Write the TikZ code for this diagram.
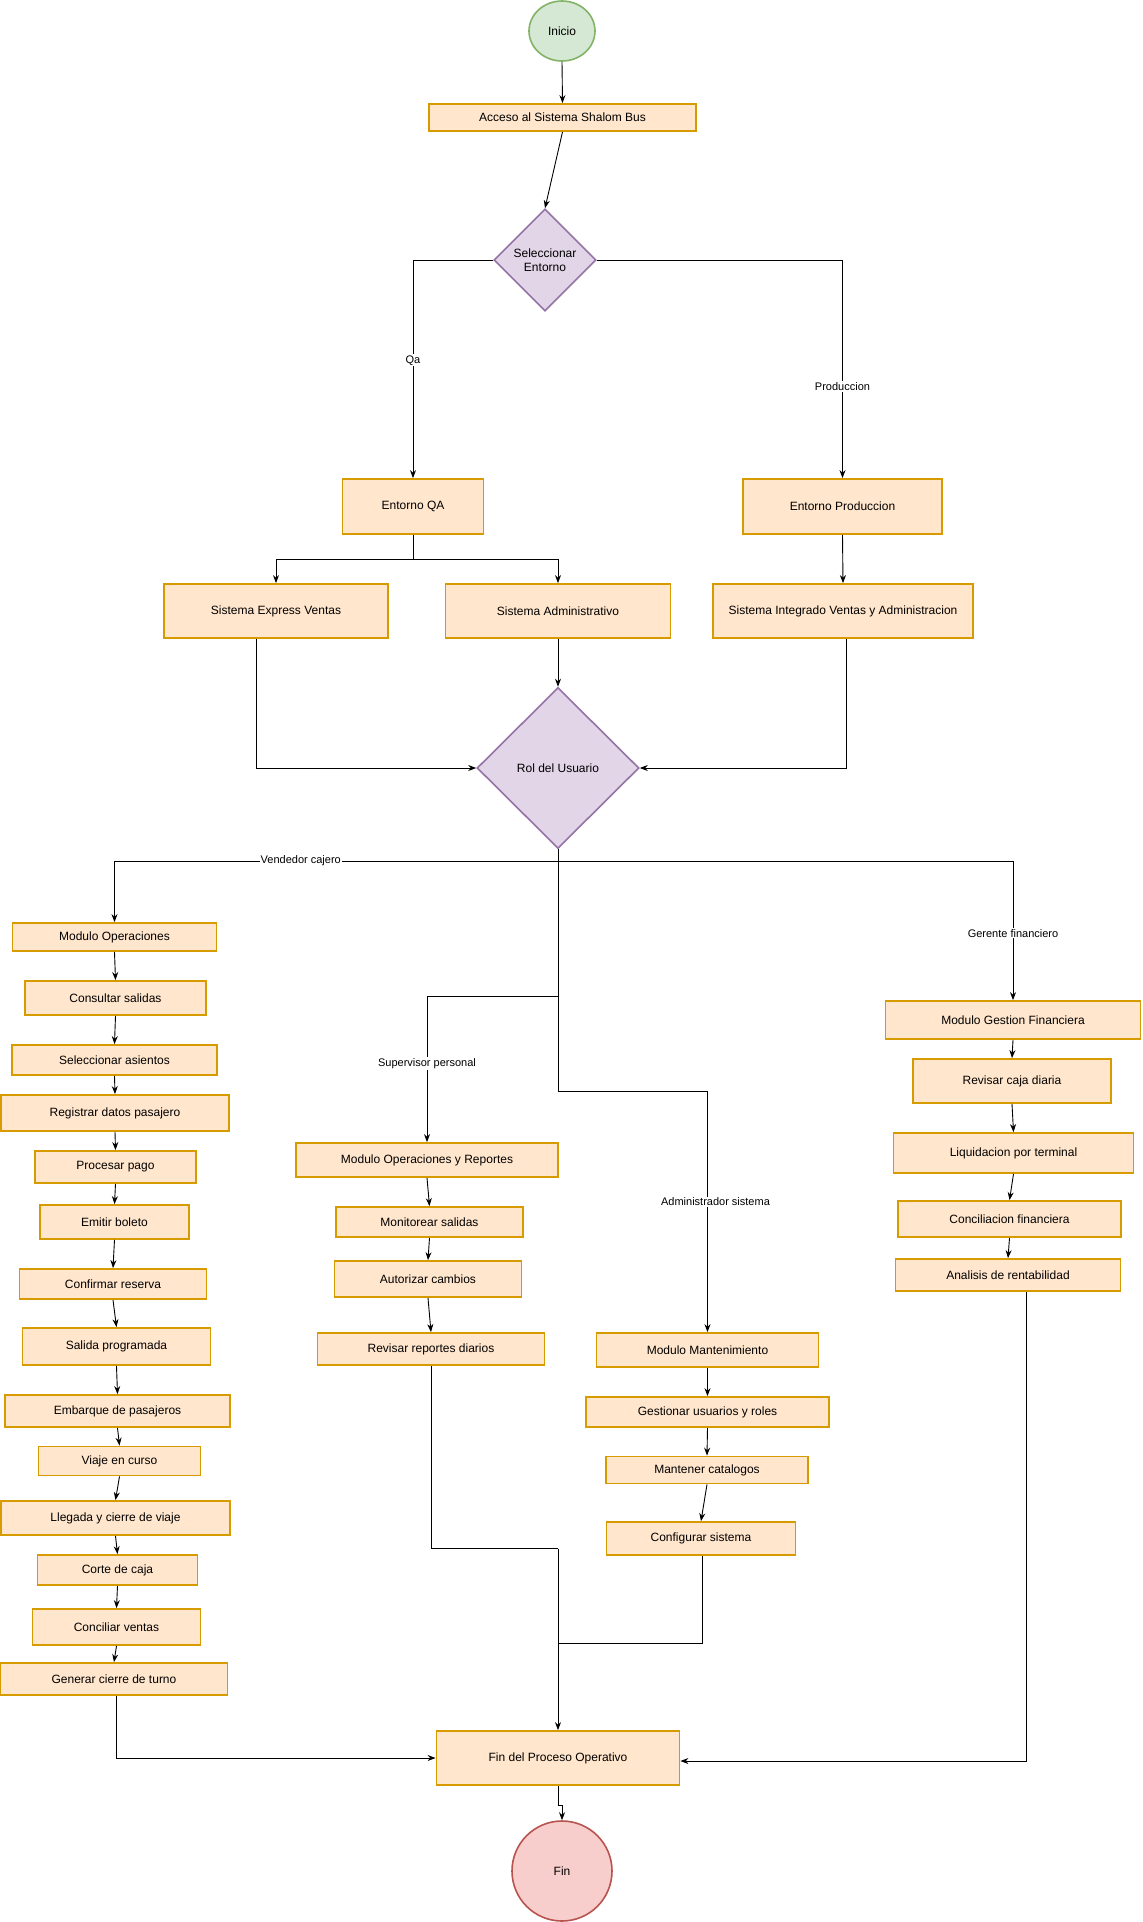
\documentclass[tikz,border=0pt]{standalone}
\usepackage{fontspec}
\setmainfont{Liberation Sans}
\usetikzlibrary{shapes.geometric,arrows.meta,calc}
\definecolor{ofill}{HTML}{FFE6CC}
\definecolor{ostroke}{HTML}{D79B00}
\definecolor{gfill}{HTML}{D5E8D4}
\definecolor{gstroke}{HTML}{82B366}
\definecolor{pfill}{HTML}{E1D5E7}
\definecolor{pstroke}{HTML}{9673A6}
\definecolor{rfill}{HTML}{F8CECC}
\definecolor{rstroke}{HTML}{B85450}
\tikzset{
  box/.style={draw=ostroke, fill=ofill, line width=1.8pt, inner sep=0pt, align=center,
    font=\fontsize{12}{14}\selectfont},
  dia/.style={diamond, draw=pstroke, fill=pfill, line width=1.6pt, inner sep=0pt, aspect=1,
    align=center, font=\fontsize{12}{14}\selectfont},
  term/.style={ellipse, line width=1.6pt, inner sep=0pt, font=\fontsize{12}{14}\selectfont},
  conn/.style={draw=black, line width=0.9pt, -{Stealth[length=8pt,width=6pt]}},
  plain/.style={draw=black, line width=0.9pt},
  lbl/.style={fill=white, inner sep=1pt, font=\fontsize{11}{13}\selectfont, text=black},
}
\begin{document}
\begin{tikzpicture}[x=1pt,y=-1pt]
\useasboundingbox (0,0) rectangle (1143,1922);
\fill[white] (0,0) rectangle (1143,1922);

% top
\node[term, draw=gstroke, fill=gfill, minimum width=66pt, minimum height=60pt] (inicio) at (562,31) {Inicio};
\node[box, minimum width=267pt, minimum height=27pt] (acceso) at (562.5,117.5) {Acceso al Sistema Shalom Bus};
\node[dia, minimum width=102pt, minimum height=102pt] (sel) at (545,260) {Seleccionar\\Entorno};
\node[box, minimum width=141pt, minimum height=55pt] (eqa) at (413,506.5) {Entorno QA};
\node[box, minimum width=199pt, minimum height=55pt] (eprod) at (842.5,506.5) {Entorno Produccion};
\node[box, minimum width=224pt, minimum height=54pt] (sev) at (276,611) {Sistema Express Ventas};
\node[box, minimum width=225pt, minimum height=54pt] (sadm) at (558,611) {Sistema Administrativo};
\node[box, minimum width=260pt, minimum height=54pt] (sint) at (843,611) {Sistema Integrado Ventas y Administracion};
\node[dia, minimum width=162pt, minimum height=161pt] (rol) at (558,768) {Rol del Usuario};

% left column
\node[box, minimum width=204pt, minimum height=28pt] (mop) at (114.5,937) {Modulo Operaciones};
\node[box, minimum width=181pt, minimum height=34pt] (cons) at (115.5,998) {Consultar salidas};
\node[box, minimum width=205pt, minimum height=30pt] (selas) at (114.5,1060) {Seleccionar asientos};
\node[box, minimum width=228pt, minimum height=36pt] (reg) at (115,1113) {Registrar datos pasajero};
\node[box, minimum width=161pt, minimum height=32pt] (proc) at (115.5,1167) {Procesar pago};
\node[box, minimum width=149pt, minimum height=34pt] (emit) at (114.5,1222) {Emitir boleto};
\node[box, minimum width=187pt, minimum height=30pt] (conf) at (113,1284) {Confirmar reserva};
\node[box, minimum width=188pt, minimum height=37pt] (sal) at (116.5,1346.5) {Salida programada};
\node[box, minimum width=225pt, minimum height=32pt] (emb) at (117.5,1411) {Embarque de pasajeros};
\node[box, minimum width=162pt, minimum height=29pt] (viaje) at (119.5,1461) {Viaje en curso};
\node[box, minimum width=229pt, minimum height=34pt] (lleg) at (115.5,1518) {Llegada y cierre de viaje};
\node[box, minimum width=160pt, minimum height=30pt] (corte) at (117.5,1570) {Corte de caja};
\node[box, minimum width=168pt, minimum height=36pt] (concv) at (116.5,1627) {Conciliar ventas};
\node[box, minimum width=227pt, minimum height=32pt] (gen) at (114,1679) {Generar cierre de turno};

% supervisor column
\node[box, minimum width=262pt, minimum height=34pt] (mor) at (427,1160) {Modulo Operaciones y Reportes};
\node[box, minimum width=187pt, minimum height=30pt] (mon) at (429.5,1222) {Monitorear salidas};
\node[box, minimum width=187pt, minimum height=36pt] (aut) at (428,1279) {Autorizar cambios};
\node[box, minimum width=227pt, minimum height=32pt] (rev) at (431,1349) {Revisar reportes diarios};

% admin column
\node[box, minimum width=222pt, minimum height=34pt] (mman) at (707.5,1350) {Modulo Mantenimiento};
\node[box, minimum width=243pt, minimum height=30pt] (gest) at (707.5,1412) {Gestionar usuarios y roles};
\node[box, minimum width=202pt, minimum height=27pt] (mant) at (707,1470) {Mantener catalogos};
\node[box, minimum width=189pt, minimum height=33pt] (cfg) at (701,1538.5) {Configurar sistema};

% finance column
\node[box, minimum width=255pt, minimum height=38pt] (mgf) at (1013,1020) {Modulo Gestion Financiera};
\node[box, minimum width=198pt, minimum height=44pt] (rcd) at (1012,1081) {Revisar caja diaria};
\node[box, minimum width=240pt, minimum height=40pt] (liq) at (1013.5,1153) {Liquidacion por terminal};
\node[box, minimum width=223pt, minimum height=36pt] (cfin) at (1009.5,1219) {Conciliacion financiera};
\node[box, minimum width=225pt, minimum height=32pt] (ana) at (1008,1275) {Analisis de rentabilidad};

% end
\node[box, minimum width=243pt, minimum height=54pt] (fpo) at (558,1758) {Fin del Proceso Operativo};
\node[term, draw=rstroke, fill=rfill, minimum width=100pt, minimum height=100pt] (fin) at (562,1871) {Fin};

% junction coordinates
\coordinate (qsplit) at (413,559);
\coordinate (rj) at (558,861);
\coordinate (sj) at (558,996.5);
\coordinate (aj) at (558,1091);
\coordinate (mj) at (558,1548.6);
\coordinate (cj) at (558,1643.6);
\coordinate (fj) at (558,1805);

% connectors top
\draw[conn] (inicio.south) -- (acceso.north);
\draw[conn] (acceso.south) -- (sel.north);
\draw[conn] (sel.west) -| node[lbl, pos=0.73] {Qa} (eqa.north);
\draw[conn] (sel.east) -| node[lbl, pos=0.79] {Produccion} (eprod.north);
\draw[plain] (eqa.south) -- (qsplit);
\draw[conn] (qsplit) -| (sev.north);
\draw[conn] (qsplit) -| (sadm.north);
\draw[conn] (eprod.south) -- (sint.north);
\draw[conn] ([xshift=-19.5pt]sev.south) |- (rol.west);
\draw[conn] (sadm.south) -- (rol.north);
\draw[conn] ([xshift=3pt]sint.south) |- (rol.east);

% role branches
\draw[plain] (rol.south) -- (rj);
\draw[conn] (rj) -| node[lbl, pos=0.29] {Vendedor cajero} (mop.north);
\draw[conn] (rj) -| node[lbl, pos=0.76] {Gerente financiero} (mgf.north);
\draw[plain] (rj) -- (sj);
\draw[conn] (sj) -| node[lbl, pos=0.73] {Supervisor personal} (mor.north);
\draw[plain] (sj) -- (aj);
\draw[conn] (aj) -| node[lbl, pos=0.73, xshift=8pt] {Administrador sistema} (mman.north);

% left chain
\foreach \a/\b in {mop/cons, cons/selas, selas/reg, reg/proc, proc/emit, emit/conf, conf/sal, sal/emb, emb/viaje, viaje/lleg, lleg/corte, corte/concv, concv/gen}
  \draw[conn] (\a.south) -- (\b.north);
% supervisor chain
\foreach \a/\b in {mor/mon, mon/aut, aut/rev}
  \draw[conn] (\a.south) -- (\b.north);
% admin chain
\foreach \a/\b in {mman/gest, gest/mant, mant/cfg}
  \draw[conn] (\a.south) -- (\b.north);
% finance chain
\foreach \a/\b in {mgf/rcd, rcd/liq, liq/cfin, cfin/ana}
  \draw[conn] (\a.south) -- (\b.north);

% to end
\draw[conn] ([xshift=2.5pt]gen.south) |- (fpo.west);
\draw[plain] ([xshift=0.5pt]rev.south) |- (mj);
\draw[plain] ([xshift=1pt]cfg.south) |- (cj);
\draw[conn] (mj) -- (fpo.north);
\draw[conn] ([xshift=18pt]ana.south) |- ([yshift=-3pt]fpo.east);
\draw[plain] (fpo.south) -- (fj);
\draw[conn] (fj) -| (fin.north);
\end{tikzpicture}
\end{document}
